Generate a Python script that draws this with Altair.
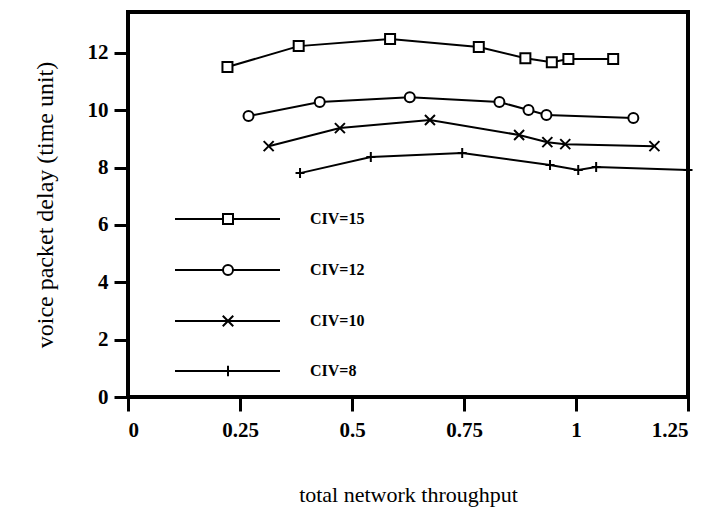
import altair as alt
import pandas as pd

# ---- data ----
series_names = ["CIV=15", "CIV=12", "CIV=10", "CIV=8"]

civ15_x = [0.222, 0.381, 0.585, 0.783, 0.887, 0.946, 0.983, 1.083]
civ15_y = [11.51, 12.24, 12.49, 12.21, 11.82, 11.68, 11.79, 11.79]

civ12_x = [0.269, 0.428, 0.629, 0.829, 0.894, 0.934, 1.128]
civ12_y = [9.80, 10.29, 10.46, 10.29, 10.01, 9.84, 9.73]

civ10_x = [0.314, 0.473, 0.674, 0.873, 0.936, 0.976, 1.175]
civ10_y = [8.75, 9.38, 9.66, 9.14, 8.89, 8.82, 8.75]

civ8_x = [0.384, 0.542, 0.746, 0.942, 1.005, 1.045, 1.25]
civ8_y = [7.81, 8.37, 8.51, 8.09, 7.92, 8.02, 7.92]

x_ticks = [0, 0.25, 0.5, 0.75, 1, 1.25]
y_ticks = [0, 2, 4, 6, 8, 10, 12]

# ---- marker shapes ----
SQUARE = "square"
CIRCLE = "circle"
XMARK = "M-1,-1L1,1M-1,1L1,-1"
PLUS = "M-0.9,0L0.9,0M0,-1L0,1"
shapes = [SQUARE, CIRCLE, XMARK, PLUS]
sizes = [100, 100, 110, 110]

rows = []
for name, xs, ys in zip(series_names,
                        [civ15_x, civ12_x, civ10_x, civ8_x],
                        [civ15_y, civ12_y, civ10_y, civ8_y]):
    for i, (a, b) in enumerate(zip(xs, ys)):
        rows.append({"series": name, "order": i, "x": a, "y": b})
df = pd.DataFrame(rows)

FONT = "Liberation Serif"

xscale = alt.Scale(domain=[0, 1.25], nice=False, zero=False)
yscale = alt.Scale(domain=[0, 13.43], nice=False)

xenc = alt.X("x:Q", scale=xscale,
             axis=alt.Axis(values=x_ticks, format=".2~f", title="total network throughput",
                           grid=False, tickSize=14, tickWidth=3, domainWidth=3,
                           labelPadding=8, titlePadding=44,
                           labelFontWeight="bold", labelFontSize=21,
                           titleFontSize=22, titleFontWeight="normal"))
yenc = alt.Y("y:Q", scale=yscale,
             axis=alt.Axis(values=y_ticks, title="voice packet delay (time unit)",
                           grid=False, tickSize=14, tickWidth=3, domainWidth=3,
                           labelPadding=6, titlePadding=30,
                           labelFontWeight="bold", labelFontSize=21,
                           titleFontSize=24, titleFontWeight="normal"))

base = alt.Chart(df)

lines = base.mark_line(color="black", strokeWidth=2).encode(
    x=xenc, y=yenc, detail="series:N", order="order:Q")

shape_scale = alt.Scale(domain=series_names, range=shapes)
size_scale = alt.Scale(domain=series_names, range=sizes)

points = base.mark_point(color="black", strokeWidth=2, filled=False, fill="white",
                         fillOpacity=1, opacity=1).encode(
    x="x:Q", y="y:Q",
    shape=alt.Shape("series:N", scale=shape_scale, legend=None),
    size=alt.Size("series:N", scale=size_scale, legend=None))

# ---- manual legend (pixel positions inside plot area) ----
leg_layers = []
leg_x0, leg_x1, leg_xm, leg_xt = 47, 152, 100, 182
leg_y = [207, 258, 309, 359]
for name, shp, sz, yy in zip(series_names, shapes, sizes, leg_y):
    d = pd.DataFrame({"label": [name]})
    c = alt.Chart(d)
    leg_layers.append(c.mark_rule(color="black", strokeWidth=2).encode(
        x=alt.value(leg_x0), x2=alt.value(leg_x1), y=alt.value(yy)))
    leg_layers.append(c.mark_point(color="black", strokeWidth=2, filled=False,
                                   fill="white", fillOpacity=1, opacity=1).encode(
        x=alt.value(leg_xm), y=alt.value(yy), shape=alt.value(shp), size=alt.value(sz)))
    leg_layers.append(c.mark_text(align="left", baseline="middle", font=FONT,
                                  fontSize=16, fontWeight="bold", color="black").encode(
        x=alt.value(leg_xt), y=alt.value(yy), text="label:N"))

chart = alt.layer(lines, points, *leg_layers).properties(
    width=560, height=385,
    autosize=alt.AutoSizeParams(type="none"),
    padding={"left": 120, "top": 4, "right": 16, "bottom": 112},
    background="white",
).configure_view(
    stroke="black", strokeWidth=4
).configure_axis(
    labelFont=FONT, titleFont=FONT, labelColor="black", titleColor="black",
    domainColor="black", tickColor="black"
)

chart.save("out.html", embed_options={"renderer": "svg", "actions": False})
